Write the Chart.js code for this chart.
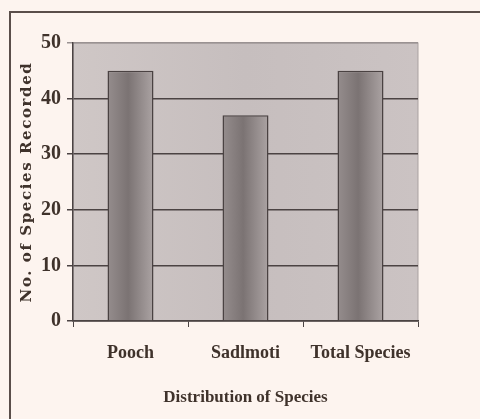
<!DOCTYPE html>
<html>
<head>
<meta charset="utf-8">
<script src="https://cdn.jsdelivr.net/npm/chart.js@4"></script>
<style>
  html, body { margin: 0; padding: 0; background: #fdf4ef; }
  #wrap { width: 480px; height: 419px; }
</style>
</head>
<body>
<div id="wrap"><canvas id="chart" width="480" height="419"></canvas></div>
<script>
const categories = ['Pooch', 'Sadlmoti', 'Total Species'];
const speciesCounts = [45, 37, 45];
const yTicks = [0, 10, 20, 30, 40, 50];

const ink = '#3f322b';
const lineDark = '#4b4343';

// page background + the scanned frame lines + grey plot area
const backdrop = {
  id: 'backdrop',
  beforeDraw(chart) {
    const ctx = chart.ctx;
    const a = chart.chartArea;
    ctx.save();
    ctx.fillStyle = '#fdf4ef';
    ctx.fillRect(0, 0, chart.width, chart.height);
    ctx.strokeStyle = '#5a4e4a';
    ctx.lineWidth = 2;
    ctx.beginPath();
    ctx.moveTo(10, chart.height);
    ctx.lineTo(10, 12);
    ctx.lineTo(chart.width, 12);
    ctx.stroke();
    const g = ctx.createLinearGradient(a.left, 0, a.right, 0);
    g.addColorStop(0, '#cfc7c6');
    g.addColorStop(0.5, '#c6bebe');
    g.addColorStop(1, '#cbc3c3');
    ctx.fillStyle = g;
    ctx.fillRect(a.left, a.top, a.right - a.left, a.bottom - a.top);
    ctx.strokeStyle = '#a9a1a1';
    ctx.lineWidth = 1;
    ctx.strokeRect(a.left, a.top, a.right - a.left, a.bottom - a.top);
    ctx.restore();

    // wider letter spacing for the y title only
    const y = chart.scales.y;
    if (y && !y._spaced) {
      const orig = y.drawTitle;
      y.drawTitle = function () {
        this.ctx.save();
        this.ctx.letterSpacing = '1.6px';
        orig.apply(this, arguments);
        this.ctx.restore();
      };
      y._spaced = true;
    }
  }
};

function barFill(context) {
  const chart = context.chart;
  const x = chart.scales.x;
  if (!chart.chartArea || !x) return '#8a8282';
  const cx = x.getPixelForValue(context.dataIndex);
  const half = 23;
  const g = chart.ctx.createLinearGradient(cx - half, 0, cx + half, 0);
  g.addColorStop(0, '#958d8d');
  g.addColorStop(0.45, '#7b7373');
  g.addColorStop(1, '#aba3a3');
  return g;
}

new Chart(document.getElementById('chart'), {
  type: 'bar',
  data: {
    labels: categories,
    datasets: [{
      label: 'No. of Species Recorded',
      data: speciesCounts,
      backgroundColor: barFill,
      borderColor: '#4a4242',
      borderWidth: 1.5,
      categoryPercentage: 0.8,
      barPercentage: 0.5
    }]
  },
  options: {
    responsive: false,
    animation: false,
    layout: { padding: { left: 10, top: 43, right: 62, bottom: 0 } },
    plugins: {
      legend: { display: false },
      tooltip: { enabled: false }
    },
    scales: {
      x: {
        grid: {
          offset: true,
          drawOnChartArea: false,
          drawTicks: true,
          tickLength: 6,
          color: lineDark
        },
        border: { color: lineDark, width: 1.5 },
        ticks: {
          color: ink,
          padding: 16,
          font: { family: 'Liberation Serif', size: 18, weight: 'bold' }
        },
        title: {
          display: true,
          text: 'Distribution of Species',
          color: ink,
          padding: { top: 0, bottom: 11 },
          font: { family: 'Liberation Serif', size: 17, weight: 'bold' }
        },
        afterFit(scale) { scale.height = 98; }
      },
      y: {
        min: 0,
        max: 50,
        afterBuildTicks(scale) { scale.ticks = yTicks.map(v => ({ value: v })); },
        grid: {
          color: ctx => (ctx.tick && ctx.tick.value === 50 ? '#9a9292' : lineDark),
          lineWidth: 1.5,
          tickLength: 6
        },
        border: { color: lineDark, width: 1.5 },
        ticks: {
          color: ink,
          padding: 6,
          font: { family: 'Liberation Serif', size: 20, weight: 'bold' }
        },
        title: {
          display: true,
          text: 'No. of Species Recorded',
          color: ink,
          padding: { top: 8, bottom: 0 },
          font: { family: 'DejaVu Serif', size: 15, weight: 'bold' }
        },
        afterFit(scale) { scale.width = 63; }
      }
    }
  },
  plugins: [backdrop]
});
</script>
</body>
</html>
